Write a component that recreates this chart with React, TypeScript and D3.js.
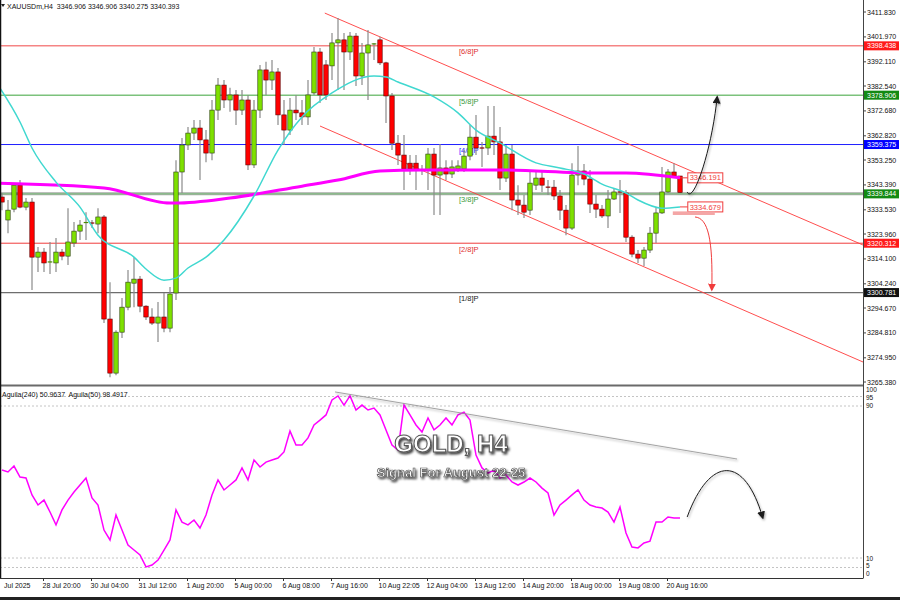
import React from 'react';
import * as d3 from 'd3';

// ---------- DATA ----------
const opens = [3338.6,3329.5,3333.8,3343.3,3334.6,3336.6,3314.8,3316.8,3312.5,3312.5,3316.8,3315.2,3320.4,3325.1,3328.3,3328.3,3327.9,3330.7,3290.3,3268.9,3285.1,3295.0,3304.5,3306.1,3295.4,3291.1,3288.7,3291.1,3286.7,3300.6,3348.5,3359.2,3363.9,3365.9,3361.2,3356.0,3373.0,3382.9,3377.0,3379.0,3373.0,3377.0,3351.3,3373.0,3388.9,3384.9,3388.1,3371.1,3365.1,3373.0,3371.9,3370.3,3379.8,3396.0,3390.9,3390.5,3399.6,3400.8,3396.0,3402.3,3386.5,3395.6,3398.8,3400.8,3391.7,3378.6,3359.9,3355.2,3352.0,3352.0,3349.3,3349.3,3355.6,3347.3,3350.1,3347.7,3349.7,3349.7,3354.8,3362.3,3358.0,3358.0,3362.7,3360.4,3346.1,3355.6,3337.4,3335.4,3333.4,3343.3,3346.1,3342.5,3342.5,3339.0,3333.4,3326.3,3347.3,3348.9,3345.7,3335.8,3333.8,3331.1,3337.8,3340.6,3340.2,3322.7,3316.0,3314.4,3317.6,3324.3,3332.3,3340.6,3348.5,3346.906];
const highs = [3340.2,3337.4,3344.1,3345.3,3338.2,3338.2,3318.8,3318.4,3320.8,3322.4,3318.0,3334.2,3328.7,3329.5,3332.6,3329.5,3334.2,3331.5,3304.9,3285.9,3298.6,3309.7,3314.8,3307.3,3295.8,3294.6,3297.0,3300.6,3303.0,3353.2,3362.0,3366.3,3369.1,3369.1,3365.1,3377.0,3385.7,3384.9,3381.8,3381.0,3381.0,3379.0,3377.0,3390.9,3392.1,3392.8,3389.7,3377.0,3377.8,3379.0,3377.0,3384.9,3398.0,3397.6,3392.8,3403.5,3409.5,3403.5,3403.9,3403.5,3399.6,3404.7,3399.6,3402.0,3392.1,3379.8,3363.1,3363.1,3355.2,3355.2,3351.3,3358.0,3358.0,3359.6,3353.2,3353.2,3353.2,3357.2,3367.1,3371.1,3360.4,3374.6,3374.6,3366.3,3359.2,3359.2,3343.3,3339.4,3348.5,3348.5,3348.5,3345.3,3345.3,3341.4,3335.4,3352.0,3358.8,3351.7,3349.3,3339.4,3335.4,3341.4,3342.2,3345.3,3341.4,3323.5,3317.6,3318.8,3326.7,3334.6,3350.5,3349.7,3352.0,3346.906];
const lows = [3333.4,3324.3,3332.6,3334.2,3333.4,3301.8,3308.9,3308.9,3308.1,3308.9,3313.6,3311.7,3318.8,3321.6,3321.6,3326.3,3324.3,3288.7,3267.3,3268.1,3282.8,3293.8,3295.0,3293.0,3289.9,3287.9,3281.2,3285.1,3285.1,3297.8,3340.2,3357.2,3361.2,3345.3,3352.4,3353.2,3369.1,3373.8,3372.3,3367.1,3371.1,3349.3,3350.1,3369.9,3379.0,3381.0,3367.1,3359.2,3363.1,3369.1,3367.1,3367.1,3379.0,3375.8,3377.0,3384.9,3381.0,3381.0,3392.8,3382.5,3382.9,3377.0,3392.8,3390.9,3367.9,3357.2,3351.3,3341.4,3347.3,3341.4,3347.3,3341.4,3331.5,3331.5,3345.3,3346.1,3348.5,3348.5,3353.2,3355.2,3350.5,3355.2,3355.2,3341.4,3344.5,3333.4,3331.5,3330.3,3331.5,3341.4,3340.6,3339.4,3337.4,3329.5,3323.5,3325.5,3343.3,3343.3,3332.3,3330.3,3330.3,3326.3,3337.4,3332.3,3320.8,3314.8,3312.5,3311.3,3316.4,3320.4,3331.9,3340.2,3346.1,3340.275];
const closes = [3336.6,3333.4,3343.3,3334.6,3336.6,3314.8,3316.8,3312.5,3312.9,3316.8,3315.2,3320.8,3325.1,3327.5,3328.5,3327.9,3330.7,3290.3,3268.9,3285.1,3295.0,3304.9,3306.1,3295.4,3291.1,3288.7,3291.1,3286.7,3300.2,3348.5,3359.2,3363.9,3365.9,3361.2,3356.0,3373.0,3382.9,3377.0,3379.0,3373.0,3377.0,3351.3,3373.0,3388.9,3384.9,3388.1,3371.1,3365.1,3373.0,3371.9,3370.3,3379.0,3396.0,3379.0,3379.0,3399.6,3400.8,3396.0,3402.3,3386.5,3395.6,3398.8,3399.2,3391.7,3378.6,3359.9,3355.2,3349.7,3349.7,3349.3,3349.1,3355.6,3347.3,3350.1,3347.7,3350.5,3350.9,3354.8,3362.3,3358.0,3357.8,3362.7,3360.4,3346.1,3355.6,3337.4,3335.4,3332.6,3344.1,3346.1,3343.3,3342.3,3339.0,3333.4,3326.3,3347.3,3348.9,3345.7,3335.8,3333.8,3331.1,3337.8,3340.6,3340.2,3322.7,3316.0,3314.4,3317.6,3324.3,3332.3,3340.6,3348.5,3346.9,3340.393];

const cyanBars = [-0.5,3,5,9,13,16,22,24,27,29,31,34,37,42,46,50,55,62,64,66,72,76,79,83,89,93,97,100,104,106,110,113];
const cyanValues = [3382.3,3368.3,3358.0,3344.5,3334.6,3323.5,3314.8,3310.1,3305.7,3306.5,3310.5,3314.8,3321.6,3339.0,3357.2,3370.3,3379.8,3386.5,3386.1,3384.1,3378.2,3371.9,3365.1,3360.0,3352.1,3350.1,3347.7,3343.7,3340.2,3337.4,3334.2,3334.679];

const magentaBars = [-0.5,17,28,29,38,50,56,63,70,83,99,104,113];
const magentaValues = [3344.1,3342.2,3336.2,3336.2,3338.2,3342.9,3345.3,3348.9,3349.3,3349.3,3348.1,3348.1,3346.191];

const aguilaValues = [56.3,55.3,58.4,52.6,52.1,43.2,37.9,40.5,34.2,27.4,35.3,40.5,44.7,48.4,52.1,41.6,37.9,24.7,19.5,32.6,24.7,16.8,14.2,11.6,5.3,6.3,8.9,14.2,19.5,35.3,28.9,27.4,30.0,25.8,32.6,43.2,51.1,45.8,48.4,51.1,57.4,51.1,61.6,57.9,60.5,61.6,62.6,65.8,76.8,69.5,69.5,73.2,80.0,82.6,85.3,93.2,95.3,90.5,95.3,87.9,90.5,87.9,88.9,85.3,77.4,69.5,66.8,90.5,85.3,80.0,76.3,83.7,77.4,80.0,83.7,80.0,85.3,86.8,82.6,64.2,57.4,54.7,56.3,52.1,53.7,50.0,48.4,50.0,52.1,50.0,46.8,44.2,32.6,37.9,40.5,43.2,45.8,40.5,37.9,36.8,36.3,34.2,28.9,36.8,23.2,15.8,15.3,17.9,18.9,28.9,28.9,31.6,31.1,31.1];

const priceTicks = [3411.83,3401.97,3392.11,3382.54,3372.68,3362.82,3353.25,3343.39,3333.53,3323.96,3314.1,3304.24,3294.67,3284.81,3274.95,3265.38];
const oscTicks = [100,95,90,10,5,0];
const oscTickBaselines = [391.5,399.5,408,560.5,568,575.5];
const oscGrid = [95,90,10,5];
const timeLabels = ['28 Jul 20:00','30 Jul 04:00','31 Jul 12:00','1 Aug 20:00','5 Aug 00:00','6 Aug 08:00','7 Aug 16:00','10 Aug 22:05','12 Aug 04:00','13 Aug 12:00','14 Aug 20:00','18 Aug 00:00','19 Aug 08:00','20 Aug 16:00'];
const timeLabelBars = [7,15,23,31,39,47,55,63,71,79,87,95,103,111];

const levelPrices = [3398.438,3378.906,3359.375,3339.844,3320.312,3300.781];
const levelNames = ['[6/8]P','[5/8]P','[4/8]P','[3/8]P','[2/8]P','[1/8]P'];
const levelLineColors = ['#f04848','#7cc27c','#2020ff','#7cc47c','#f03c3c','#6e6e6e'];
const levelTagColors = ['#ff1a1a','#138a13','#0000ff','#138a13','#ff1a1a','#111111'];
const levelTextColors = ['#e03030','#3a9a3a','#2020ff','#3a9a3a','#e03030','#222222'];

const channelUpper = [[53.8,3411.4],[143.5,3319.6]];
const channelLower = [[53,3366.7],[143.5,3273.3]];
const upArrow = [[114.2,3340.6],[115.2,3335.4],[118.3,3357.2],[119.2,3378.2]];
const downArrow = [[115.5,3330.7],[117.7,3330.3],[118.5,3321.6],[118.3,3301.8]];
const oscTrend = [[55.5,97.4],[122.5,62.1]];
const oscArrow = [[114.2,31.6],[118,64.2],[123.8,64.2],[126.8,31.1]];

const FONT = "'Liberation Sans', Arial, sans-serif";

export default function App() {
  const x = d3.scaleLinear().domain([0, 113]).range([2, 680]);
  const y = d3.scaleLinear().domain([3265.38, 3411.83]).range([382, 12]);
  const yo = d3.scaleLinear().domain([0, 100]).range([577, 387]);
  const axisX = 863;

  const cyanLine = d3.line<number>().x((_, i) => x(cyanBars[i])).y((v) => y(v)).curve(d3.curveMonotoneX)(cyanValues) || '';
  const magLine = d3.line<number>().x((_, i) => x(magentaBars[i])).y((v) => y(v)).curve(d3.curveMonotoneX)(magentaValues) || '';
  const oscLine = d3.line<number>().x((_, i) => x(i)).y((v) => yo(v))(aguilaValues) || '';

  const cubic = (pts: number[][], sy: (v: number) => number) => {
    const p = d3.path();
    p.moveTo(x(pts[0][0]), sy(pts[0][1]));
    p.bezierCurveTo(x(pts[1][0]), sy(pts[1][1]), x(pts[2][0]), sy(pts[2][1]), x(pts[3][0]), sy(pts[3][1]));
    return p.toString();
  };

  const lastMag = magentaValues[magentaValues.length - 1];
  const lastCyan = cyanValues[cyanValues.length - 1];
  const labelBar = 114.3;

  return (
    <svg width={900} height={600} style={{ position: 'absolute', left: 0, top: 0, background: '#fff' }} fontFamily={FONT}>
      <defs>
        <clipPath id="mainClip"><rect x={0} y={0} width={axisX} height={385} /></clipPath>
        <clipPath id="oscClip"><rect x={0} y={387} width={axisX} height={191} /></clipPath>
        <marker id="ahBlack" viewBox="0 0 10 10" refX="8" refY="5" markerWidth="8" markerHeight="8" orient="auto">
          <path d="M0,0 L10,5 L0,10 z" fill="#1a1a1a" />
        </marker>
        <marker id="ahRed" viewBox="0 0 10 10" refX="8" refY="5" markerWidth="8" markerHeight="8" orient="auto">
          <path d="M0,0 L10,5 L0,10 z" fill="#f03c3c" />
        </marker>
        <filter id="titleShadow" x="-20%" y="-40%" width="140%" height="180%">
          <feDropShadow dx="1.5" dy="2" stdDeviation="1.3" floodColor="#000" floodOpacity="0.75" />
        </filter>
        <filter id="softShadow" x="-10%" y="-50%" width="120%" height="200%">
          <feDropShadow dx="1" dy="1.5" stdDeviation="1" floodColor="#000" floodOpacity="0.35" />
        </filter>
      </defs>

      <rect x={0} y={0} width={900} height={600} fill="#fff" />

      {/* header */}
      <path d="M1,4 L5,4 L3,7 z" fill="#222" />
      <text x={7} y={9} fontSize={7} fill="#111" style={{ whiteSpace: 'pre' }}>{'XAUUSDm,H4  3346.906 3346.906 3340.275 3340.393'}</text>

      {/* main panel */}
      <g clipPath="url(#mainClip)">
        {levelPrices.map((p, i) => (
          <g key={'lv' + i}>
            {i === 3 && <line x1={0} x2={axisX} y1={y(p)} y2={y(p)} stroke="#a6aaa6" strokeWidth={3} />}
            <line x1={0} x2={axisX} y1={y(p)} y2={y(p)} stroke={levelLineColors[i]} strokeWidth={i === 1 ? 1.6 : i === 5 ? 1.3 : 1} />
            <text x={459} y={y(p) + 8.5} fontSize={7.5} fill={levelTextColors[i]}>{levelNames[i]}</text>
          </g>
        ))}

        {[channelUpper, channelLower].map((c, i) => (
          <line key={'ch' + i} x1={x(c[0][0])} y1={y(c[0][1])} x2={x(c[1][0])} y2={y(c[1][1])} stroke="#ff3a3a" strokeWidth={0.9} />
        ))}

        {opens.map((o, i) => {
          const c = closes[i];
          const cx = x(i);
          const top = y(Math.max(o, c));
          const bot = y(Math.min(o, c));
          const up = c >= o;
          const h = bot - top;
          return (
            <g key={'c' + i}>
              <line x1={cx} x2={cx} y1={y(highs[i])} y2={y(lows[i])} stroke="#8a8a8a" strokeWidth={1.2} />
              {h < 1.2 ? (
                <line x1={cx - 2.3} x2={cx + 2.3} y1={top} y2={top} stroke={up ? '#4a8a00' : '#8a0000'} strokeWidth={1.2} />
              ) : (
                <rect x={cx - 2.2} y={top} width={4.4} height={h} fill={up ? '#7ee000' : '#ff0000'} stroke={up ? '#2d3d10' : '#5a0000'} strokeWidth={0.6} />
              )}
            </g>
          );
        })}

        <path d={magLine} fill="none" stroke="#ff00ff" strokeWidth={3} />
        <path d={cyanLine} fill="none" stroke="#40d8d0" strokeWidth={1.5} />

        {/* price labels near last bar */}
        <line x1={x(113)} x2={x(labelBar)} y1={y(lastMag)} y2={y(lastMag)} stroke="#f03c3c" strokeWidth={1} />
        <rect x={x(labelBar)} y={y(lastMag) - 5} width={35} height={10} fill="#fff" stroke="#f03c3c" strokeWidth={1} />
        <text x={x(labelBar) + 17.5} y={y(lastMag) + 2.6} fontSize={7.5} fill="#f03c3c" textAnchor="middle">{lastMag.toFixed(3)}</text>
        <line x1={x(113)} x2={x(labelBar)} y1={y(lastCyan)} y2={y(lastCyan)} stroke="#f03c3c" strokeWidth={1} />
        <rect x={x(labelBar)} y={y(lastCyan) - 5} width={35} height={10} fill="#fff" stroke="#f03c3c" strokeWidth={1} />
        <text x={x(labelBar) + 17.5} y={y(lastCyan) + 2.6} fontSize={7.5} fill="#f03c3c" textAnchor="middle">{lastCyan.toFixed(3)}</text>
        <rect x={x(111.8)} y={y(3332.2) - 1.8} width={x(118.8) - x(111.8)} height={3.6} fill="#f4a6a6" />

        {/* arrows */}
        <path d={cubic(upArrow, y)} fill="none" stroke="#1a1a1a" strokeWidth={1} markerEnd="url(#ahBlack)" filter="url(#softShadow)" />
        <path d={cubic(downArrow, y)} fill="none" stroke="#f03c3c" strokeWidth={1} markerEnd="url(#ahRed)" />
      </g>

      {/* price axis */}
      <line x1={axisX + 0.5} x2={axisX + 0.5} y1={0} y2={578} stroke="#444" strokeWidth={1} />
      {priceTicks.map((p, i) => (
        <g key={'pt' + i}>
          <line x1={axisX} x2={axisX + 3} y1={y(p)} y2={y(p)} stroke="#444" />
          <text x={axisX + 4} y={y(p) + 2.5} fontSize={7} fill="#111">{p.toFixed(3)}</text>
        </g>
      ))}
      {levelPrices.map((p, i) => (
        <g key={'tag' + i}>
          <rect x={axisX + 1} y={y(p) - 4.5} width={35} height={9} fill={levelTagColors[i]} />
          <text x={axisX + 4} y={y(p) + 2.5} fontSize={7} fill="#fff">{p.toFixed(3)}</text>
        </g>
      ))}

      {/* separator */}
      <line x1={0} x2={axisX} y1={385.5} y2={385.5} stroke="#6a6a6a" strokeWidth={2} />

      {/* oscillator panel */}
      <g clipPath="url(#oscClip)">
        {oscGrid.map((v) => (
          <line key={'og' + v} x1={0} x2={axisX} y1={yo(v)} y2={yo(v)} stroke="#c4c4c4" strokeWidth={1} strokeDasharray="2,2" />
        ))}
        <path d={oscLine} fill="none" stroke="#ff00ff" strokeWidth={1.5} />
        <line x1={x(oscTrend[0][0])} y1={yo(oscTrend[0][1])} x2={x(oscTrend[1][0])} y2={yo(oscTrend[1][1])} stroke="#9a9a9a" strokeWidth={0.9} filter="url(#softShadow)" />
        <path d={cubic(oscArrow, yo)} fill="none" stroke="#1a1a1a" strokeWidth={1} markerEnd="url(#ahBlack)" filter="url(#softShadow)" />
      </g>
      <text x={2} y={397} fontSize={7} fill="#111" style={{ whiteSpace: 'pre' }}>{'Aguila(240) 50.9637  Aguila(50) 98.4917'}</text>
      {oscTicks.map((v, i) => (
        <text key={'ot' + v} x={axisX + 3} y={oscTickBaselines[i]} fontSize={6.5} fill="#111">{v}</text>
      ))}

      {/* title */}
      <text x={451} y={452} textAnchor="middle" fontSize={24} fontWeight="bold" fill="#ffffff" stroke="#555" strokeWidth={1} filter="url(#titleShadow)" fontFamily={FONT}>GOLD, H4</text>
      <text x={451} y={477} textAnchor="middle" fontSize={13} fontWeight="bold" fill="#ffffff" stroke="#555" strokeWidth={0.7} filter="url(#titleShadow)" fontFamily={FONT}>Signal For August 22-25</text>

      {/* frame */}
      <line x1={0.5} x2={0.5} y1={0} y2={578} stroke="#111" strokeWidth={1.5} />
      <line x1={0} x2={axisX + 0.5} y1={578.5} y2={578.5} stroke="#333" strokeWidth={1} />

      {/* time axis */}
      <text x={4} y={588} fontSize={7} fill="#111">Jul 2025</text>
      {timeLabels.map((t, i) => (
        <g key={'tl' + i}>
          <line x1={x(timeLabelBars[i]) - 0.5} x2={x(timeLabelBars[i]) - 0.5} y1={578} y2={581} stroke="#333" />
          <text x={x(timeLabelBars[i]) - 1.5} y={588} fontSize={7} fill="#111">{t}</text>
        </g>
      ))}
      <rect x={0} y={597} width={900} height={3} fill="#222" />
    </svg>
  );
}
